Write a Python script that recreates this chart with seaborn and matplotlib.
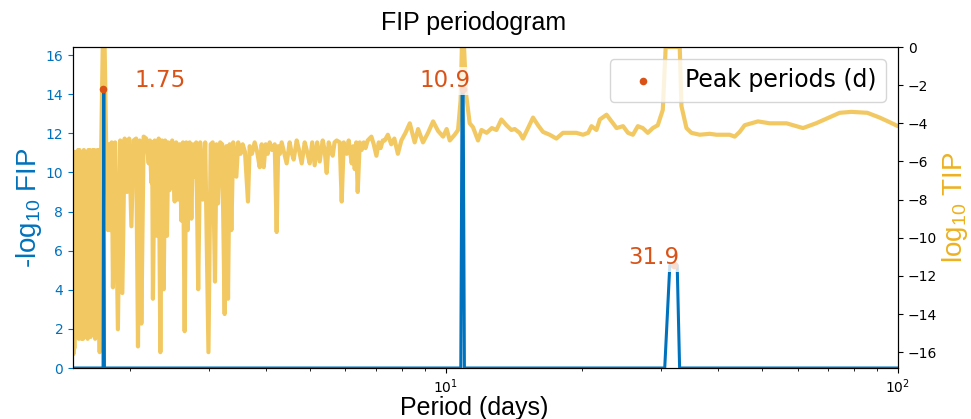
import numpy as np
import pandas as pd
import seaborn as sns
import matplotlib.pyplot as plt

# log10 TIP curve (right axis)
tip_period = [
    1.500, 1.503, 1.507, 1.510, 1.514, 1.518, 1.522, 1.526, 1.530, 1.535,
    1.540, 1.545, 1.550, 1.556, 1.561, 1.567, 1.573, 1.579, 1.585, 1.591,
    1.597, 1.604, 1.610, 1.616, 1.622, 1.628, 1.634, 1.641, 1.647, 1.653,
    1.660, 1.666, 1.672, 1.679, 1.686, 1.692, 1.699, 1.705, 1.712, 1.718,
    1.724, 1.731, 1.745, 1.762, 1.776,
    1.792, 1.800, 1.814, 1.826, 1.838, 1.859, 1.885, 1.907, 1.928, 1.951,
    1.974, 1.996, 2.019, 2.042, 2.068, 2.088, 2.106, 2.124, 2.149, 2.177,
    2.205, 2.219, 2.235, 2.244, 2.253, 2.273, 2.300, 2.320, 2.340, 2.361,
    2.380, 2.398, 2.420, 2.437, 2.453, 2.485, 2.517, 2.536, 2.559, 2.582,
    2.604, 2.625, 2.648, 2.669, 2.689, 2.716, 2.740, 2.762, 2.787, 2.808,
    2.837, 2.866, 2.902, 2.940, 2.989, 3.023, 3.054, 3.090, 3.114, 3.138,
    3.173, 3.205, 3.246, 3.274, 3.302, 3.330, 3.359, 3.390, 3.445, 3.477,
    3.52, 3.558, 3.60, 3.655, 3.687, 3.73, 3.782, 3.83, 3.880, 3.919,
    3.960, 4.000, 4.04, 4.082, 4.13, 4.188, 4.230, 4.263, 4.30, 4.339,
    4.39, 4.451, 4.519, 4.56, 4.613, 4.684, 4.74, 4.805, 4.879, 4.94,
    5.005, 5.069, 5.133, 5.199, 5.266, 5.347, 5.40, 5.457, 5.513, 5.57,
    5.626, 5.68, 5.742, 5.831, 5.890, 5.951, 6.043, 6.104, 6.198, 6.246,
    6.294, 6.342, 6.390, 6.456, 6.52, 6.589, 6.65, 6.724, 6.852, 6.933,
    7.029, 7.112, 7.18, 7.258, 7.333, 7.45, 7.58, 7.70, 7.84, 7.98,
    8.15, 8.33, 8.54, 8.69, 8.91, 9.14, 9.38, 9.62, 9.87, 10.05,
    10.21, 10.47, 10.65, 10.79, 10.86, 10.98, 11.10, 11.30, 11.49, 11.79,
    12.00, 12.32, 12.65, 12.95, 13.28, 13.62, 13.97, 14.21, 14.57, 14.82,
    15.21, 15.60, 16.00, 16.41, 16.98, 17.57, 18.17, 18.80, 19.45, 20.12,
    20.65, 21.01, 21.55, 21.92, 22.68, 23.27, 23.87, 24.67, 25.30, 25.94,
    26.60, 27.28, 27.98, 28.70, 29.44, 30.20, 30.65, 32.92, 33.21, 34.07,
    34.94, 36.45, 38.35, 39.69, 42.46, 43.56, 44.67, 45.82, 49.03, 52.04,
    56.70, 58.66, 61.66, 65.88, 69.57, 74.31, 78.89, 85.56, 91.10, 95.03,
    100.0,
]
tip_log10 = [
    -5.5, -16.1, -5.5, -15.8, -5.5, -11.7, -5.5, -15.0, -5.5, -12.0,
    -5.4, -15.3, -5.4, -12.1, -5.5, -15.3, -5.5, -15.3, -5.4, -13.5,
    -5.5, -10.3, -5.5, -15.3, -5.4, -10.3, -5.4, -15.2, -5.5, -9.0,
    -5.4, -10.3, -5.4, -15.3, -5.5, -15.2, -5.4, -11.0, -5.4, -16.0,
    -5.4, -5.4, 0.0, 0.0, -5.3,
    -9.6, -5.1, -9.6, -5.0, -12.6, -5.0, -14.8, -4.9, -12.9, -4.8,
    -7.6, -4.8, -9.4, -4.9, -4.8, -15.7, -4.9, -14.5, -4.7, -4.8,
    -6.1, -4.9, -7.1, -5.0, -13.2, -4.9, -9.9, -4.8, -16.0, -4.9,
    -12.7, -4.9, -9.9, -5.0, -7.5, -4.9, -8.1, -5.0, -8.0, -5.1,
    -9.1, -5.0, -14.9, -5.0, -9.6, -5.0, -9.0, -5.1, -6.8, -5.0,
    -12.7, -5.0, -8.0, -5.0, -16.0, -5.1, -5.0, -12.3, -5.1, -8.2,
    -5.0, -5.1, -14.0, -5.2, -13.2, -5.1, -9.6, -5.0, -6.8, -5.0,
    -5.6, -5.1, -5.5, -8.1, -5.2, -5.6, -5.0, -5.5, -6.3, -5.1,
    -6.3, -5.1, -5.6, -5.0, -5.4, -5.1, -9.7, -5.2, -5.6, -5.0,
    -5.5, -6.1, -5.0, -5.5, -5.9, -4.9, -5.4, -6.1, -5.0, -5.5,
    -6.1, -5.0, -6.2, -5.0, -6.0, -4.9, -5.4, -6.6, -5.0, -5.4,
    -5.7, -5.0, -4.9, -5.0, -8.1, -5.0, -5.6, -4.9, -6.1, -5.2,
    -6.4, -5.0, -7.6, -5.0, -5.4, -5.0, -5.3, -4.9, -4.7, -5.1,
    -5.7, -5.0, -5.3, -4.9, -4.9, -4.6, -5.1, -4.8, -5.6, -4.9,
    -4.5, -4.0, -5.0, -4.3, -5.0, -4.5, -3.9, -4.4, -4.7, -4.3,
    -4.9, -4.6, -4.35, -2.8, 0.0, 0.0, -2.5, -4.0, -4.2, -4.9,
    -4.35, -4.5, -4.25, -4.35, -3.8, -4.1, -4.35, -4.3, -4.5, -4.8,
    -4.25, -3.7, -4.1, -4.45, -4.6, -4.8, -4.5, -4.5, -4.5, -4.6,
    -4.5, -4.15, -4.35, -3.8, -3.55, -3.9, -4.25, -4.15, -4.5, -4.6,
    -4.15, -4.25, -4.5, -4.25, -4.1, -3.3, 0.0, 0.0, -3.1, -4.25,
    -4.5, -4.6, -4.55, -4.6, -4.6, -4.7, -4.45, -4.1, -3.9, -4.0,
    -4.0, -4.1, -4.25, -4.0, -3.75, -3.45, -3.4, -3.45, -3.7, -3.9,
    -4.15,
]

# -log10 FIP curve (left axis)
fip_period = [1.50, 1.748, 1.754, 1.760, 10.80, 10.87, 10.93, 11.00,
              30.5, 31.3, 32.5, 32.9, 100.0]
fip_value = [0.0, 0.0, 14.27, 0.0, 0.0, 14.27, 14.27, 0.0,
             0.0, 5.25, 5.25, 0.0, 0.0]

# detected peaks
peak_period = [1.75, 10.9, 31.9]
peak_fip = [14.27, 14.27, 5.25]
peak_labels = ["1.75", "10.9", "31.9"]
label_offsets = [(57, 8), (-18, 8), (-20, 8)]

FIP_COLOR = "#0072BD"
TIP_COLOR = "#EDB120"
PEAK_COLOR = "#D95319"

sns.set_style("ticks", {"axes.edgecolor": "black", "text.color": "black",
                        "axes.labelcolor": "black", "xtick.color": "black",
                        "ytick.color": "black"})
plt.rcParams["mathtext.fontset"] = "custom"
plt.rcParams["mathtext.rm"] = "Liberation Sans"
plt.rcParams["mathtext.it"] = "Liberation Sans:italic"

fig, ax1 = plt.subplots(figsize=(9.71, 4.19), dpi=100)
fig.subplots_adjust(left=0.0752, right=0.9248, top=0.8878, bottom=0.1217)
ax1.set_xscale("log")
ax2 = ax1.twinx()

tip = pd.DataFrame({"period": tip_period, "tip": tip_log10})
fip = pd.DataFrame({"period": fip_period, "fip": fip_value})
peaks = pd.DataFrame({"period": peak_period, "fip": peak_fip})

sns.lineplot(data=tip, x="period", y="tip", ax=ax2, color=TIP_COLOR,
             alpha=0.7, lw=3, sort=False, estimator=None)

sns.lineplot(data=fip, x="period", y="fip", ax=ax1, color=FIP_COLOR,
             lw=2.2, sort=False, estimator=None)
sns.scatterplot(data=peaks, x="period", y="fip", ax=ax1, color=PEAK_COLOR,
                s=30, linewidth=0, zorder=5, label="Peak periods (d)")

for p, f, txt, off in zip(peak_period, peak_fip, peak_labels, label_offsets):
    ax1.annotate(txt, (p, f), xytext=off, textcoords="offset pixels",
                 ha="center", va="center", fontsize=16.5, color=PEAK_COLOR,
                 bbox=dict(boxstyle="square,pad=0.12", facecolor="white",
                           alpha=0.8, edgecolor="none"), zorder=6)

ax1.set_zorder(ax2.get_zorder() + 1)
ax1.patch.set_visible(False)

ax1.set_xlim(1.5, 100)
ax1.set_ylim(0, 16.41)
ax2.set_ylim(-16.83, 0)
ax1.set_yticks(np.arange(0, 17, 2))
ax2.set_yticks(np.arange(-16, 1, 2))
ax1.tick_params(axis="y", colors=FIP_COLOR, labelsize=10)
ax2.tick_params(axis="y", colors="black", labelsize=10)
ax1.tick_params(axis="x", labelsize=10)

ax1.set_xlabel("Period (days)", fontsize=18, family="Liberation Sans",
               labelpad=0, x=0.486)
ax1.set_ylabel("-log$_{10}$ FIP", fontsize=20, family="Liberation Sans",
               color=FIP_COLOR, labelpad=1)
ax2.set_ylabel("log$_{10}$ TIP", fontsize=20, family="Liberation Sans",
               color=TIP_COLOR, labelpad=2)
ax1.set_title("FIP periodogram", fontsize=18, family="Liberation Sans",
              pad=12, x=0.486)

ax1.legend(loc="upper right", fontsize=17, framealpha=0.8)

plt.savefig("out.png", dpi=100)
